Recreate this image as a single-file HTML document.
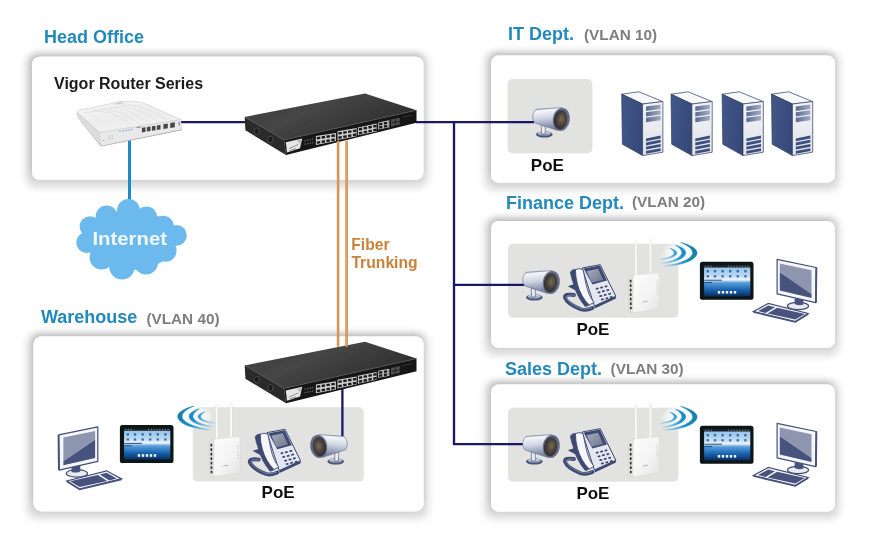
<!DOCTYPE html>
<html>
<head>
<meta charset="utf-8">
<title>Network Diagram</title>
<style>
html,body{margin:0;padding:0;background:#fff;}
body{width:877px;height:548px;overflow:hidden;position:relative;font-family:"Liberation Sans",sans-serif;}
svg{position:absolute;left:0;top:0;display:block;}
text{font-family:"Liberation Sans",sans-serif;font-weight:bold;}
.t{fill:#2489bb;font-size:18px;}
.v{fill:#7e7e7e;font-size:15.3px;}
.p{fill:#111;font-size:17px;}
</style>
</head>
<body>
<svg width="877" height="548" viewBox="0 0 877 548">
<defs>
<filter id="sh" x="-10%" y="-25%" width="120%" height="150%">
  <feMorphology in="SourceAlpha" operator="dilate" radius="5"/>
  <feGaussianBlur stdDeviation="4"/>
  <feOffset dx="-1" dy="1.5"/>
  <feComponentTransfer result="a"><feFuncA type="linear" slope="0.16"/></feComponentTransfer>
  <feGaussianBlur in="SourceAlpha" stdDeviation="3"/>
  <feOffset dx="-1.5" dy="-3"/>
  <feComponentTransfer result="b"><feFuncA type="linear" slope="0.16"/></feComponentTransfer>
  <feMerge><feMergeNode in="a"/><feMergeNode in="b"/><feMergeNode in="SourceGraphic"/></feMerge>
</filter>
<filter id="soft" x="0" y="0" width="877" height="548" filterUnits="userSpaceOnUse"><feGaussianBlur stdDeviation="0.3"/></filter>
<!-- switch: coordinates of head-office instance -->
<linearGradient id="swTop" x1="0" y1="0" x2="1" y2="0.6">
  <stop offset="0" stop-color="#3d3d3d"/><stop offset="0.45" stop-color="#454545"/><stop offset="1" stop-color="#2c2c2c"/>
</linearGradient>
<g id="switch">
  <path d="M244.7 117L365 93.4L416.5 110.2L284 140Z" fill="url(#swTop)"/>
  <path d="M244.7 117L284 140L286 154.9L245.4 130.3Z" fill="#2a2a2a"/>
  <path d="M284 140L416.5 110.2L416.5 122.8L286 154.9Z" fill="#171717"/>
  <path d="M244.7 117L284 140L416.5 110.2" fill="none" stroke="#555" stroke-width="0.7"/>
  <ellipse cx="256.8" cy="131.2" rx="2.7" ry="3.3" fill="#1d1d1d" stroke="#5a5a5a" stroke-width="0.7"/>
  <ellipse cx="270.4" cy="139.4" rx="2.7" ry="3.3" fill="#1d1d1d" stroke="#5a5a5a" stroke-width="0.7"/>
  <!-- logo plate -->
  <path d="M285.8 142.2L302.2 138.4L300 148.2L287 152.4Z" fill="#e6e6e6"/>
  <path d="M289 148.6L298.6 144.4M289.6 150.4L296 148.6" stroke="#8a8a8a" stroke-width="0.9" fill="none"/>
  <path d="M296.5 140.6L301.4 139.4L300.4 144Z" fill="#b9b9b9"/>
  <!-- leds -->
  <path d="M304.5 140.9L313.5 138.9M304.7 144.4L313.7 142.4" stroke="#5a5a5a" stroke-width="1.5" stroke-dasharray="1.4 1.1" fill="none"/>
  <!-- port groups -->
  <g fill="#cfcfcf">
    <path d="M315.9 136.1L335.9 132.9L335.9 141.1L315.9 144.9Z"/>
    <path d="M337.5 131.3L356.6 128.1L356.6 136.2L337.5 140.1Z"/>
    <path d="M357.9 127.4L376.6 123.5L376.6 131.4L357.9 135.3Z"/>
    <path d="M378.2 122.4L389.4 120.3L389.4 127.3L378.2 129.4Z"/>
  </g>
  <g stroke="#1f1f1f" stroke-width="2.4" stroke-dasharray="3.5 1.4" fill="none">
    <path d="M316.8 138.3L335.9 135.3"/><path d="M316.8 142.7L335.9 139.3"/>
    <path d="M338.4 133.5L356.6 130.5"/><path d="M338.4 137.8L356.6 134.4"/>
    <path d="M358.8 129.5L376.6 125.8"/><path d="M358.8 133.3L376.6 129.6"/>
    <path d="M379 124.4L389.4 122.5"/><path d="M379 127.5L389.4 125.6"/>
  </g>
  <path d="M391 119.6L399.7 117.8L399.7 124.6L391 126.4Z" fill="#505050"/>
  <path d="M391.6 123L399.7 121.3M395.3 118.8V125.4" stroke="#1c1c1c" stroke-width="0.8"/>
  <path d="M402 117.4L412 115.2" stroke="#3a3a3a" stroke-width="0.8"/>
</g>
<!-- router -->
<linearGradient id="rtTop" x1="0" y1="0" x2="0.6" y2="1">
  <stop offset="0" stop-color="#f6f6f6"/><stop offset="0.6" stop-color="#ececec"/><stop offset="1" stop-color="#f4f4f4"/>
</linearGradient>
<g id="router">
  <path d="M79 119L100.8 146.6L181.8 130.2L181.5 128.5L101 144.5Z" fill="#9a9a9a"/>
  <path d="M76.8 112.1Q77 110.6 80 110L109.7 103.9L118 101.6L134 101.2L142.5 102.5L180.8 119.6L99.4 132.6Z" fill="url(#rtTop)" stroke="#c9c9c9" stroke-width="0.6"/>
  <path d="M76.8 112.1L99.4 132.6L100.8 146L78.2 118Z" fill="#dcdcdc" stroke="#c2c2c2" stroke-width="0.5"/>
  <path d="M99.4 132.6L180.8 119.6L181.5 129.6L100.8 146Z" fill="#e9e9e9" stroke="#c6c6c6" stroke-width="0.5"/>
  <g fill="none" stroke="#dedede" stroke-width="0.8">
    <path d="M84 113Q110 106 132 125"/><path d="M92 111Q116 105 140 124"/><path d="M101 109Q124 104 149 122.6"/><path d="M111 107Q134 103.6 158 121.4"/><path d="M122 105Q144 103.6 167 120"/>
  </g>
  <path d="M112 103.4L122 101.8L126 103.4L116 105.2Z" fill="#e2e2e2"/>
  <path d="M116.5 103.6L122 102.8" stroke="#b9b9b9" stroke-width="0.7"/>
  <g fill="#474747" transform="translate(0 0.6)">
    <path d="M141.9 127.21L145.5 126.64L145.5 131.24L141.9 131.81Z"/>
    <path d="M146.9 126.41L150.5 125.84L150.5 130.44L146.9 131.01Z"/>
    <path d="M151.9 125.62L155.5 125.04L155.5 129.64L151.9 130.22Z"/>
    <path d="M156.9 124.82L160.5 124.24L160.5 128.84L156.9 129.42Z"/>
    <path d="M163.4 123.58L167.8 122.88L167.8 127.68L163.4 128.38Z"/>
    <path d="M170.2 122.49L174.8 121.76L174.8 126.56L170.2 127.29Z"/>
  </g>
  <path d="M178.6 122L179.6 121.8L179.6 125.4L178.6 125.6Z" fill="#6a62b4"/>
  <path d="M119 131.6L134 129.2" stroke="#8aa6cf" stroke-width="0.9" stroke-dasharray="2.2 0.8" fill="none"/>
  <path d="M136.5 127.6L141 126.9" stroke="#777" stroke-width="0.8" fill="none"/>
  <path d="M108.6 135.6L108.8 140.4M110.4 135.3L110.6 140.1M112.2 135L112.4 139.8" stroke="#b5b5b5" stroke-width="0.8" stroke-dasharray="0.9 0.7" fill="none"/>
  <path d="M102.5 140.6L104.5 140.3" stroke="#b0b0b0" stroke-width="0.8"/>
</g>
<!-- cloud -->
<g id="cloud" fill="#6cb9ed">
  <ellipse cx="131" cy="240" rx="45" ry="30"/>
  <circle cx="128.5" cy="210.4" r="11.4"/>
  <circle cx="146.5" cy="217" r="10.6"/>
  <circle cx="163" cy="226.5" r="10.8"/>
  <circle cx="176.4" cy="235.4" r="10.4"/>
  <circle cx="165.6" cy="250.6" r="11"/>
  <circle cx="146" cy="262.6" r="12"/>
  <circle cx="122" cy="266.6" r="12.8"/>
  <circle cx="101.6" cy="257.6" r="12"/>
  <circle cx="87" cy="242.6" r="10.6"/>
  <circle cx="90" cy="226.6" r="10.4"/>
  <circle cx="106.6" cy="216.6" r="11"/>
</g>
<!-- camera (finance instance coords) -->
<linearGradient id="camBody" x1="0" y1="0" x2="0.15" y2="1">
  <stop offset="0" stop-color="#8d97b3"/><stop offset="0.18" stop-color="#f4f6fa"/><stop offset="0.5" stop-color="#cfd5e3"/><stop offset="1" stop-color="#6f7c9f"/>
</linearGradient>
<radialGradient id="camLens" cx="0.55" cy="0.45" r="0.6">
  <stop offset="0" stop-color="#776a57"/><stop offset="0.55" stop-color="#4a413a"/><stop offset="1" stop-color="#2a272b"/>
</radialGradient>
<linearGradient id="camBase" x1="0" y1="0" x2="0" y2="1">
  <stop offset="0" stop-color="#dfe4ee"/><stop offset="1" stop-color="#7d89a8"/>
</linearGradient>
<g id="camera">
  <ellipse cx="534.3" cy="297.4" rx="8.3" ry="3.2" fill="#4a577c"/>
  <ellipse cx="534.3" cy="296.6" rx="6.6" ry="2.2" fill="url(#camBase)"/>
  <path d="M531.2 288L535.4 289.4L535.2 297L531.6 297Z" fill="#e8ebf2" stroke="#5b688c" stroke-width="0.7"/>
  <path d="M526 272.3L551.5 270.6L548 293.6L524.6 285.8Q520 279 526 272.3Z" fill="url(#camBody)" stroke="#65708f" stroke-width="0.6"/>
  <ellipse cx="551.3" cy="282.4" rx="8.5" ry="11.6" transform="rotate(9 551.3 282.4)" fill="#5f6a88"/>
  <ellipse cx="550.6" cy="282.8" rx="6.6" ry="9.7" transform="rotate(9 550.7 282.8)" fill="url(#camLens)"/>
</g>
<!-- phone (finance instance coords) -->
<linearGradient id="phScr" x1="0" y1="0" x2="1" y2="1">
  <stop offset="0" stop-color="#a9aebd"/><stop offset="1" stop-color="#6d748c"/>
</linearGradient>
<g id="phone">
  <path d="M574 295Q564.4 293.6 565 297.6Q567 303.6 580.6 309.2Q586 311 592.4 308" fill="none" stroke="#3e4a72" stroke-width="3.8" stroke-linecap="round"/>
  <path d="M574 295.2Q565.6 294.4 566 297.6Q568 303 580.6 308.6Q586 310.2 591.4 307.8" fill="none" stroke="#8d98b6" stroke-width="0.7" stroke-linecap="round"/>
  <path d="M567.8 286.2L576 283.6L577.6 291.6Z" fill="#3e4a72"/>
  <path d="M582.2 268L600.2 264.7L615.8 296.2L594.4 306Z" fill="#e4e7ef" stroke="#3e4a72" stroke-width="1"/>
  <path d="M594.4 306L615.8 296.2L615.9 298.6L594.8 308.4Z" fill="#3e4a72"/>
  <path d="M583.6 268.6L599.8 265.6L607 280.6L592.4 284.6Z" fill="#3e4a72"/>
  <path d="M586.6 271.2L598 268.7L603.2 280L591.8 282.8Z" fill="url(#phScr)"/>
  <g fill="#3e4a72">
    <rect x="-1.4" y="-0.9" width="2.8" height="1.8" rx="0.5" transform="translate(597.2 288.6) rotate(-14)"/>
    <rect x="-1.4" y="-0.9" width="2.8" height="1.8" rx="0.5" transform="translate(601.6 287.5) rotate(-14)"/>
    <rect x="-1.4" y="-0.9" width="2.8" height="1.8" rx="0.5" transform="translate(606 286.4) rotate(-14)"/>
    <rect x="-1.4" y="-0.9" width="2.8" height="1.8" rx="0.5" transform="translate(599 292.3) rotate(-14)"/>
    <rect x="-1.4" y="-0.9" width="2.8" height="1.8" rx="0.5" transform="translate(603.4 291.2) rotate(-14)"/>
    <rect x="-1.4" y="-0.9" width="2.8" height="1.8" rx="0.5" transform="translate(607.8 290.1) rotate(-14)"/>
    <rect x="-1.4" y="-0.9" width="2.8" height="1.8" rx="0.5" transform="translate(600.8 296) rotate(-14)"/>
    <rect x="-1.4" y="-0.9" width="2.8" height="1.8" rx="0.5" transform="translate(605.2 294.9) rotate(-14)"/>
    <rect x="-1.4" y="-0.9" width="2.8" height="1.8" rx="0.5" transform="translate(609.6 293.8) rotate(-14)"/>
    <rect x="-1.4" y="-0.9" width="2.8" height="1.8" rx="0.5" transform="translate(602.4 299.4) rotate(-14)"/>
    <rect x="-1.4" y="-0.9" width="2.8" height="1.8" rx="0.5" transform="translate(606.8 298.3) rotate(-14)"/>
    <rect x="-1.4" y="-0.9" width="2.8" height="1.8" rx="0.5" transform="translate(611.2 297.2) rotate(-14)"/>
  </g>
  <path d="M570.4 272Q572 269.2 575.6 269.4Q575.6 277 577.7 284.5Q581 297 589.4 305L585.4 306.6Q577 297 573.8 284.5Q571 277 570.4 272Z" fill="#3e4a72" stroke="#3e4a72" stroke-width="0.8" stroke-linejoin="round"/>
  <path d="M575.4 269.6Q579 267.8 583 269.4Q584.6 277 586.1 284.5Q588.6 296 594 302.4L589.2 305Q581 297 577.5 284.5Q575.4 277 575.4 269.6Z" fill="#f6f7fa" stroke="#3e4a72" stroke-width="0.9" stroke-linejoin="round"/>
</g>
<!-- access point (finance instance coords) -->
<linearGradient id="apF" x1="0" y1="0" x2="1" y2="1">
  <stop offset="0" stop-color="#fdfdfd"/><stop offset="0.6" stop-color="#f3f3f3"/><stop offset="1" stop-color="#e2e2e2"/>
</linearGradient>
<g id="ap">
  <path d="M636.2 276L635.7 241.6M650.5 274.4L650.4 240.4" stroke="#d9d9d9" stroke-width="2.4" stroke-linecap="round" fill="none"/>
  <path d="M636.2 276L635.7 241.6M650.5 274.4L650.4 240.4" stroke="#fdfdfd" stroke-width="1.7" stroke-linecap="round" fill="none"/>
  <path d="M628.2 278Q628.4 276.4 633.4 275L632.6 312.8Q629.2 312.4 628.8 310.8Z" fill="#e3e3e3" stroke="#c9c9c9" stroke-width="0.4"/>
  <path d="M633.4 275L657 272.8Q659.2 272.8 659.3 275L659.8 307Q659.8 309 657.8 309.3L632.6 312.8Z" fill="url(#apF)" stroke="#d4d4d4" stroke-width="0.5"/>
  <path d="M630.6 279.8L630.8 309.2" stroke="#2e2e2e" stroke-width="1.7" stroke-dasharray="2.6 1.9" fill="none"/>
  <path d="M657.2 281L657.5 295" stroke="#cdcdcd" stroke-width="1.6" stroke-dasharray="1 1.5" fill="none"/>
  <path d="M642.6 302.6Q645 300.6 647.6 301.4" stroke="#a9a9a9" stroke-width="0.9" fill="none"/>
</g>
<!-- wifi waves (finance instance coords) -->
<linearGradient id="wv" gradientUnits="userSpaceOnUse" x1="695" y1="248" x2="660" y2="265">
  <stop offset="0" stop-color="#107fa8"/><stop offset="0.42" stop-color="#1f8fc9"/><stop offset="0.68" stop-color="#67b3dc"/><stop offset="0.9" stop-color="#a4cce4" stop-opacity="0.9"/><stop offset="1" stop-color="#cfe0ea" stop-opacity="0.3"/>
</linearGradient>
<radialGradient id="wvGlow" cx="0.5" cy="0.5" r="0.5">
  <stop offset="0" stop-color="#f2f9fd" stop-opacity="0.95"/><stop offset="0.6" stop-color="#f6fbfe" stop-opacity="0.8"/><stop offset="1" stop-color="#fff" stop-opacity="0"/>
</radialGradient>
<g id="waves" transform="translate(1 0.9)">
  <ellipse cx="679" cy="252.6" rx="19" ry="13" fill="url(#wvGlow)"/>
  <g fill="url(#wv)" stroke="url(#wv)" stroke-width="0.5" stroke-linejoin="round">
  <path d="M679.7 241.5C688 243.4 696.3 247.4 696.1 252C695.9 257.4 686 264.6 660 265.6C680 263.2 691.6 257.4 691.7 252C691.8 248 686.4 244.2 679.7 241.5Z"/>
  <path d="M674.6 244.4C679.6 245.6 684.9 248.4 684.7 252C684.5 256.6 676 261.8 658.5 262.7C672 260.8 680.7 256.2 680.9 252C681 249.4 678.6 246.6 674.6 244.4Z"/>
  <path d="M668.8 247.4C672.4 248.2 675.9 250 675.7 252.2C675.5 255.4 669.6 258.2 657.8 258.7C667 257.4 673 255 673.1 252.2C673.2 250.6 671.6 248.8 668.8 247.4Z"/>
  </g>
</g>
<!-- tablet (finance instance coords) -->
<linearGradient id="tbScr" x1="0" y1="0" x2="0" y2="1">
  <stop offset="0" stop-color="#93c4ec"/><stop offset="0.3" stop-color="#bcdaf2"/><stop offset="0.43" stop-color="#eef6fc"/><stop offset="0.53" stop-color="#5b9fdb"/><stop offset="0.75" stop-color="#1c68b4"/><stop offset="1" stop-color="#0a2c5e"/>
</linearGradient>
<g id="tablet">
  <rect x="699.9" y="261.8" width="53.6" height="38" rx="2.6" fill="#101214"/>
  <rect x="704.1" y="267.2" width="46.2" height="29.2" fill="url(#tbScr)"/>
  <rect x="704.1" y="265.2" width="46.2" height="2.2" fill="#1d2329"/>
  <path d="M705 266.2H712M728 266.2H749" stroke="#9aa6b2" stroke-width="0.8" stroke-dasharray="1.2 1.6"/>
  <g fill="#2a5a97" opacity="0.85">
    <rect x="706.6" y="270" width="2.4" height="2.4"/><rect x="713.8" y="270" width="2.4" height="2.4"/><rect x="721.4" y="270" width="2.4" height="2.4"/><rect x="729" y="270" width="2.4" height="2.4"/><rect x="736.6" y="270" width="2.4" height="2.4"/><rect x="744.2" y="270" width="2.4" height="2.4"/>
    <rect x="706.6" y="275.2" width="2.4" height="2.2"/><rect x="713.8" y="275.2" width="2.4" height="2.2"/><rect x="721.4" y="275.2" width="2.4" height="2.2"/><rect x="729" y="275.2" width="2.4" height="2.2"/><rect x="736.6" y="275.2" width="2.4" height="2.2"/><rect x="744.2" y="275.2" width="2.4" height="2.2"/>
  </g>
  <path d="M704.4 280.2H722M704.4 282.6H712" stroke="#173f74" stroke-width="0.9"/>
  <g fill="#eef5fc">
    <rect x="717.8" y="291" width="2.4" height="2.6"/><rect x="721.8" y="291" width="2.4" height="2.6"/><rect x="725.8" y="291" width="2.4" height="2.6"/><rect x="729.8" y="291" width="2.4" height="2.6"/><rect x="733.8" y="291" width="2.4" height="2.6"/>
  </g>
</g>
<!-- monitor + keyboard (finance instance coords) -->
<g id="pc">
  <path d="M753.4 311.5L768.3 303.4L808.1 313.5L795.3 321.6Z" fill="#f5f6f9" stroke="#434f79" stroke-width="1.2"/>
  <path d="M753.4 312L795.3 322L808.1 314" fill="none" stroke="#46527c" stroke-width="1.6"/>
  <path d="M758.2 311L768.3 305.4L775 307.2L765.6 313.1Z" fill="#46527c"/>
  <path d="M767.6 313.5L777.1 307.7L804.8 313.9L795.3 319.6Z" fill="#46527c"/>
  <ellipse cx="798" cy="306" rx="10.6" ry="3.7" fill="#e9ebf1" stroke="#434f79" stroke-width="1.2"/>
  <path d="M794.6 298.2L803.4 299.8L803.4 304.6Q799 306 794.6 304Z" fill="#46527c"/>
  <path d="M777.1 259.4L816.2 267.5L815.6 302.7L777.1 293.9Z" fill="#f5f6f9" stroke="#434f79" stroke-width="1.2" stroke-linejoin="round"/>
  <path d="M816.4 267.5L816 302.7" stroke="#46527c" stroke-width="1.8"/>
  <path d="M779.8 263.5L811.5 270.2L811.5 293.9L779.8 272.3Z" fill="#8e95af"/>
  <path d="M779.8 272.3L811.5 293.9L811.5 297.9L779.8 290.5Z" fill="#46527c"/>
</g>
<!-- server (first instance coords) -->
<linearGradient id="svBay" x1="0" y1="0" x2="1" y2="0">
  <stop offset="0" stop-color="#596a93"/><stop offset="1" stop-color="#a4acc2"/>
</linearGradient>
<linearGradient id="svF" x1="0" y1="0" x2="0" y2="1">
  <stop offset="0" stop-color="#f4f5f7"/><stop offset="1" stop-color="#dfe1e6"/>
</linearGradient>
<linearGradient id="svL" x1="0" y1="0" x2="1" y2="0.3">
  <stop offset="0" stop-color="#435889"/><stop offset="1" stop-color="#364a79"/>
</linearGradient>
<g id="server">
  <path d="M621.7 94.2L638.9 91.8L662.9 101.6L642.6 104Z" fill="#f7f8fa" stroke="#2d3b62" stroke-width="0.7" stroke-linejoin="round"/>
  <path d="M621.7 94.2L642.6 104L642.6 155.6L622.4 144.2Z" fill="url(#svL)" stroke="#2d3b62" stroke-width="0.7" stroke-linejoin="round"/>
  <path d="M642.6 104L662.9 101.6L662.9 152.2L642.6 155.6Z" fill="url(#svF)" stroke="#2d3b62" stroke-width="0.7" stroke-linejoin="round"/>
  <g fill="url(#svBay)">
    <path d="M646 106.6L660.6 104.6L660.6 109L646 111Z"/>
    <path d="M646 112.2L660.6 110.2L660.6 114.6L646 116.6Z"/>
    <path d="M646 117.8L660.6 115.8L660.6 120.2L646 122.2Z"/>
  </g>
  <g fill="#3b4f80">
    <path d="M646 138.4L660.6 135.6L660.6 138.4L646 141.2Z"/>
    <path d="M646 142.6L660.6 139.8L660.6 142.6L646 145.4Z"/>
    <path d="M646 146.8L660.6 144L660.6 146.8L646 149.6Z"/>
    <path d="M646 151L660.6 148.2L660.6 151L646 153.8Z"/>
  </g>
</g>
</defs>
<rect width="877" height="548" fill="#fff"/>
<g id="scene" filter="url(#soft)">

<!-- panels -->
<g id="panels" filter="url(#sh)">
<rect x="32" y="56.7" width="391.5" height="123.1" rx="8" fill="#fff"/>
<rect x="33.5" y="336.4" width="390.1" height="174.8" rx="8" fill="#fff"/>
<rect x="491" y="55.4" width="344" height="127.3" rx="8" fill="#fff"/>
<rect x="491" y="221" width="344" height="126.9" rx="8" fill="#fff"/>
<rect x="491" y="384.4" width="344" height="127.1" rx="8" fill="#fff"/>
</g>

<!-- poe zones -->
<g id="zones" fill="#e2e2e0">
<rect x="507.6" y="79" width="84.8" height="74.3" rx="5"/>
<rect x="508" y="243.8" width="170.4" height="74" rx="5"/>
<rect x="508" y="407.8" width="170.4" height="74" rx="5"/>
<rect x="192.8" y="407.2" width="171" height="74.4" rx="5"/>
</g>

<!-- titles -->
<g id="labels">
<text class="t" x="44" y="43">Head Office</text>
<text class="t" x="508" y="40">IT Dept.</text><text class="v" x="584" y="40">(VLAN 10)</text>
<text class="t" x="506" y="209">Finance Dept.</text><text class="v" x="632" y="206.5">(VLAN 20)</text>
<text class="t" x="505" y="374.6">Sales Dept.</text><text class="v" x="610.6" y="373.5">(VLAN 30)</text>
<text class="t" x="41" y="323">Warehouse</text><text class="v" x="146.4" y="323.6">(VLAN 40)</text>
<text x="54" y="89" font-size="16" fill="#1a1a1a">Vigor Router Series</text>
<text class="p" x="530.8" y="171.4">PoE</text>
<text class="p" x="576.4" y="334.6">PoE</text>
<text class="p" x="576.4" y="498.6">PoE</text>
<text class="p" x="261.6" y="498.4">PoE</text>
<text x="351.2" y="249.5" font-size="15.7" fill="#cb8238">Fiber</text>
<text x="351.4" y="267.6" font-size="15.7" fill="#cb8238">Trunking</text>
</g>

<!-- links -->
<g id="links" fill="none">
<path d="M129.5 139V202" stroke="#2389c9" stroke-width="3"/>
<path d="M181 122.2H246M416 122.1H534M454 122.1V444.2H524.5M454 284.8H524.5" stroke="#1f1966" stroke-width="2.3"/>
<path d="M342.4 388V437" stroke="#1f1966" stroke-width="2.3"/>
</g>

<!-- devices -->
<use href="#cloud"/>
<text x="92.4" y="244.6" font-size="19" fill="#eef8ff" textLength="74.6" lengthAdjust="spacingAndGlyphs">Internet</text>
<use href="#router"/>
<use href="#switch"/>
<use href="#switch" transform="translate(0 248.4)"/>
<path d="M338.1 140.8V346.8M346.6 140.8V346.8" stroke="#d08641" stroke-width="2.5" fill="none"/>
<path d="M338.1 141V346.8M346.6 141V346.8" stroke="#e9a56c" stroke-width="0.9" fill="none"/>

<use href="#camera" transform="translate(10 -163)"/>
<use href="#server"/>
<use href="#server" transform="translate(49.3 0)"/>
<use href="#server" transform="translate(100.4 0)"/>
<use href="#server" transform="translate(149.8 0)"/>

<g id="fin">
<use href="#camera"/><use href="#phone"/><use href="#waves"/><use href="#ap"/><use href="#tablet"/><use href="#pc"/>
</g>
<use href="#fin" transform="translate(0 164)"/>

<g id="wh">
<use href="#waves" transform="translate(874.8 163.6) scale(-1 1)"/>
<use href="#ap" transform="translate(-419.3 164)"/>
<use href="#phone" transform="translate(-315.2 164.6)"/>
<use href="#camera" transform="translate(870 164) scale(-1 1)"/>
<use href="#tablet" transform="translate(-580 163.2)"/>
<use href="#pc" transform="translate(874.9 167.4) scale(-1 1)"/>
</g>
</g>
</svg>
</body>
</html>
